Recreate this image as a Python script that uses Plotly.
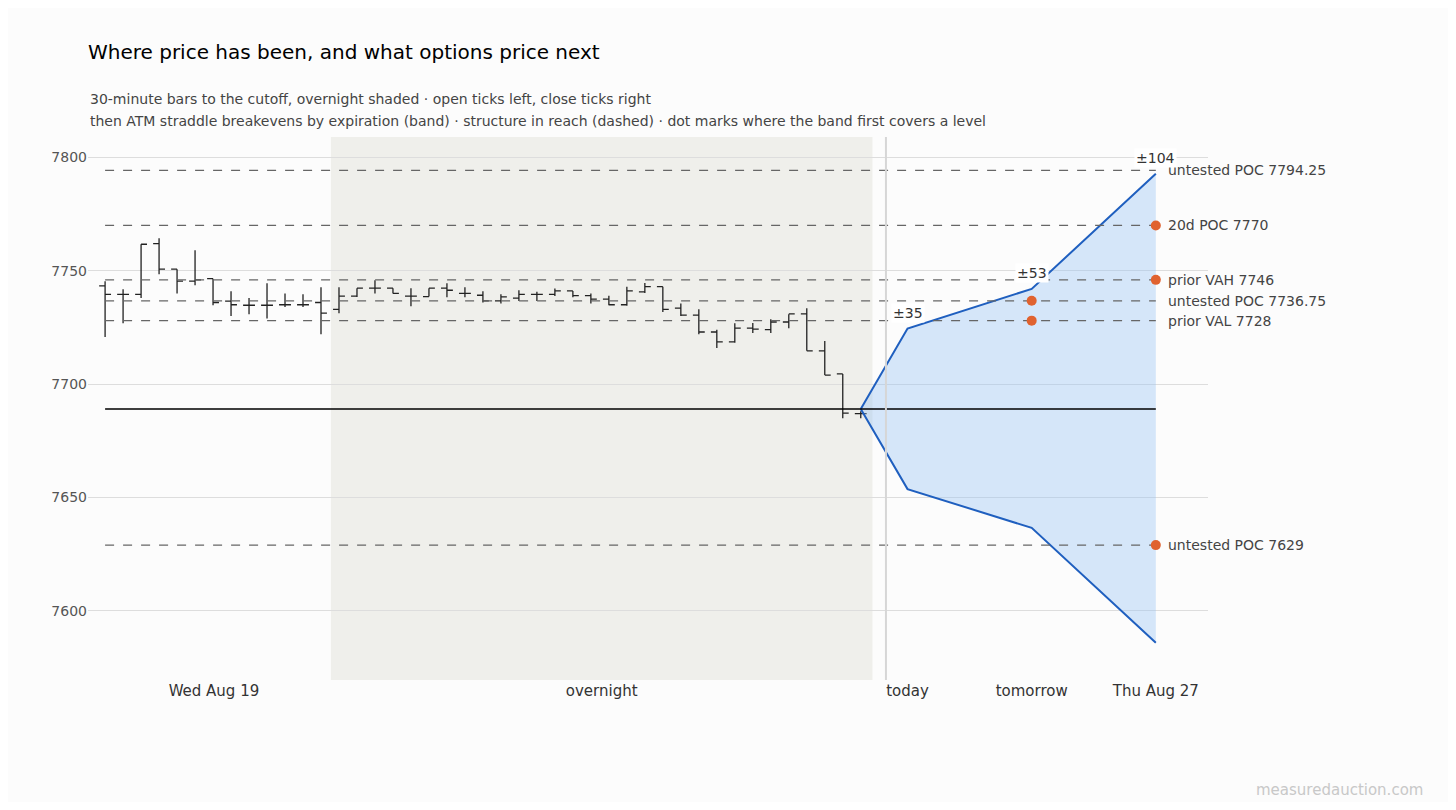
import numpy as np
import plotly.graph_objects as go

# -------------------------
# 30-minute bars (open, high, low, close)
# -------------------------
bars = [
    (7743.3, 7745.4, 7720.8, 7739.6), (7739.6, 7741.9, 7726.9, 7739.6),
    (7739.6, 7761.7, 7738.0, 7761.7), (7762.0, 7764.3, 7748.5, 7750.7),
    (7750.7, 7750.7, 7740.0, 7745.4), (7745.4, 7759.0, 7743.6, 7746.0),
    (7746.5, 7746.5, 7734.8, 7736.0), (7736.6, 7741.0, 7730.0, 7735.0),
    (7734.8, 7738.0, 7730.8, 7734.8), (7734.8, 7744.5, 7729.0, 7734.8),
    (7735.0, 7740.0, 7734.0, 7735.0), (7735.0, 7739.6, 7734.0, 7735.0),
    (7736.0, 7742.7, 7722.0, 7731.3), (7733.0, 7742.7, 7731.3, 7738.8),
    (7738.8, 7742.3, 7738.4, 7742.3), (7742.3, 7745.8, 7740.0, 7742.3),
    (7742.3, 7742.3, 7740.0, 7740.0), (7738.8, 7742.3, 7734.4, 7738.8),
    (7738.6, 7742.3, 7738.6, 7742.3), (7742.3, 7744.5, 7738.3, 7741.4),
    (7740.0, 7742.7, 7738.3, 7740.0), (7739.2, 7741.0, 7736.0, 7736.7),
    (7736.7, 7739.6, 7735.6, 7738.5), (7737.9, 7741.4, 7736.7, 7739.6),
    (7739.6, 7740.7, 7736.7, 7739.6), (7739.6, 7742.2, 7738.9, 7741.1),
    (7741.1, 7741.1, 7738.3, 7739.0), (7739.0, 7740.0, 7735.6, 7737.5),
    (7737.5, 7739.0, 7734.8, 7735.0), (7735.0, 7743.0, 7734.6, 7741.1),
    (7740.7, 7744.6, 7740.2, 7743.0), (7743.0, 7743.0, 7731.8, 7733.0),
    (7733.5, 7735.6, 7730.0, 7730.4), (7730.4, 7733.0, 7722.0, 7723.0),
    (7723.0, 7724.0, 7715.9, 7718.6), (7718.6, 7726.9, 7718.2, 7724.7),
    (7724.7, 7727.0, 7722.5, 7724.3), (7724.0, 7728.6, 7722.5, 7727.4),
    (7727.4, 7730.8, 7724.7, 7731.0), (7731.0, 7733.5, 7714.7, 7714.7),
    (7714.7, 7719.0, 7704.0, 7704.0), (7704.5, 7704.5, 7685.0, 7687.2),
    (7687.0, 7688.0, 7685.0, 7687.0),
]
o, h, l, c = np.array(bars).T
x = np.arange(len(bars))

last = 7689
last_x = len(bars) - 1

# Straddle breakevens by expiration
exp_x = [last_x, 44.6, 51.5, 58.4]
upper = [last, 7724.5, 7742.0, 7792.8]
lower = [last, 7653.7, 7636.6, 7585.9]
moves = ["", "±35", "±53", "±104"]

# Structure levels: (price, label, first-touch expiration index or None)
levels = [
    (7794.25, "untested POC 7794.25", None),
    (7770, "20d POC 7770", 3),
    (7746, "prior VAH 7746", 3),
    (7736.75, "untested POC 7736.75", 2),
    (7728, "prior VAL 7728", 2),
    (7629, "untested POC 7629", 3),
]

fig = go.Figure()

# overnight shading
fig.add_shape(type="rect", x0=12.55, x1=42.65, y0=7569.5, y1=7809,
              fillcolor="#efefeb", line_width=0, layer="below")
fig.add_shape(type="line", x0=43.4, x1=43.4, y0=7569.5, y1=7809,
              line=dict(color="#d6d6d6", width=2))

# band
fig.add_trace(go.Scatter(x=exp_x, y=lower, mode="lines",
                         line=dict(color="#1f5fbf", width=2), showlegend=False))
fig.add_trace(go.Scatter(x=exp_x, y=upper, mode="lines", fill="tonexty",
                         fillcolor="rgba(150,195,245,0.38)",
                         line=dict(color="#1f5fbf", width=2), showlegend=False))

# levels
for price, label, hit in levels:
    fig.add_trace(go.Scatter(x=[0, 58.4], y=[price, price], mode="lines",
                             line=dict(color="#666666", width=1.3, dash="dash"),
                             showlegend=False))
    fig.add_annotation(x=58.4, y=price, text=label, showarrow=False,
                       xanchor="left", xshift=10, font=dict(size=14, color="#444444"))
    if hit is not None:
        fig.add_trace(go.Scatter(x=[exp_x[hit]], y=[price], mode="markers",
                                 marker=dict(color="#e0622f", size=10), showlegend=False))

# last price
fig.add_trace(go.Scatter(x=[0, 58.4], y=[last, last], mode="lines",
                         line=dict(color="black", width=1.5), showlegend=False))

# bars
fig.add_trace(go.Ohlc(x=x, open=o, high=h, low=l, close=c, tickwidth=0.33,
                      increasing_line_color="#222222", decreasing_line_color="#222222",
                      line_width=1.3, showlegend=False, hoverinfo="skip"))

for ex, up, mv in zip(exp_x[1:], upper[1:], moves[1:]):
    fig.add_annotation(x=ex, y=up, text=mv, showarrow=False, yshift=16,
                       bgcolor="white", font=dict(size=14, color="#333333"))

# subtitle lines
fig.add_annotation(x=0, y=1.07, xref="paper", yref="paper", showarrow=False,
                   xanchor="left", yanchor="middle", font=dict(size=14, color="#444444"),
                   text="30-minute bars to the cutoff, overnight shaded · open ticks left, close ticks right")
fig.add_annotation(x=0, y=1.0295, xref="paper", yref="paper", showarrow=False,
                   xanchor="left", yanchor="middle", font=dict(size=14, color="#444444"),
                   text="then ATM straddle breakevens by expiration (band) · structure in reach (dashed) · dot marks where the band first covers a level")

fig.add_annotation(x=1, y=0, xref="paper", yref="paper", text="measuredauction.com",
                   showarrow=False, xanchor="right", yanchor="middle",
                   xshift=217, yshift=-110, font=dict(size=15, color="#c8c8c8"))

fig.update_layout(
    width=1440, height=794,
    paper_bgcolor="#fcfcfc", plot_bgcolor="#fcfcfc",
    font=dict(family="DejaVu Sans", color="#444444"),
    margin=dict(l=80, r=240, t=129, b=122),
    title=dict(text="Where price has been, and what options price next",
               x=0, xref="paper", y=0.945, yanchor="middle", font=dict(size=20, color="black")),
    xaxis=dict(range=[-0.95, 61.3], rangeslider_visible=False, showgrid=False, zeroline=False,
               tickmode="array", tickvals=[6.05, 27.6, 44.6, 51.5, 58.4],
               ticktext=["Wed Aug 19", "overnight", "today", "tomorrow", "Thu Aug 27"],
               tickfont=dict(size=15, color="#333333"), ticks=""),
    yaxis=dict(range=[7569.5, 7809], tickvals=[7600, 7650, 7700, 7750, 7800],
               gridcolor="#dddddd", zeroline=False, tickfont=dict(size=14, color="#555555")),
)

fig.write_html("out.html")
